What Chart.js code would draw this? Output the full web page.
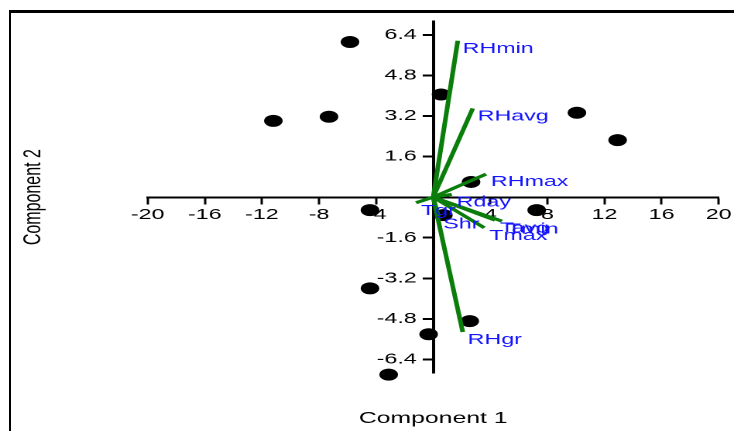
<!DOCTYPE html>
<html lang="en">
<head>
<meta charset="UTF-8">
<title>Component biplot</title>
<script src="https://cdn.jsdelivr.net/npm/chart.js"></script>
<style>
  html, body { margin: 0; padding: 0; background: #fff; overflow: hidden; width: 734px; height: 431px; }
  #frame { position: absolute; left: 8.5px; top: 10px; width: 760px; height: 460px;
           border-left: 2.5px solid #000; border-top: 3px solid #000; }
  /* the original figure uses a wide lettering, so the chart is drawn narrow and stretched */
  #wrap { position: absolute; left: 0; top: 0; width: 474px; height: 431px;
          transform: scaleX(1.5485); transform-origin: 0 0; }
</style>
</head>
<body>
<div id="frame"></div>
<div id="wrap"><canvas id="biplot"></canvas></div>

<script>
// observation scores
const scoreX = [-5.83, -11.2, -7.30, 0.55, 10.07, 12.92, 2.65, -4.43, 0.71, 7.25, -4.43, 2.56, -0.32, -3.12];
const scoreY = [6.12, 3.01, 3.17, 4.05, 3.33, 2.25, 0.60, -0.51, -0.71, -0.51, -3.60, -4.89, -5.41, -7.00];

// variable loadings
const varNames = ['RHmin', 'RHavg', 'RHmax', 'Rday', 'Tgr', 'Shr', 'Tavg', 'Tmin', 'Tmax', 'RHgr'];
const loadX = [1.72, 2.77, 3.70, 1.30, -1.20, 0.36, 4.33, 4.82, 3.58, 2.07];
const loadY = [6.17, 3.50, 0.91, 0.11, -0.22, -0.76, -0.91, -0.95, -1.21, -5.32];

const xTicks = [-20, -16, -12, -8, -4, 4, 8, 12, 16, 20];
const yTicks = [6.4, 4.8, 3.2, 1.6, -1.6, -3.2, -4.8, -6.4];

const family = '"Liberation Sans", Arial, sans-serif';

const vectorLabels = {
    id: 'vectorLabels',
    afterDatasetsDraw(chart) {
        const { ctx, scales: { x, y } } = chart;
        ctx.save();
        ctx.font = '15px ' + family;
        ctx.fillStyle = '#1414ff';
        ctx.textAlign = 'left';
        ctx.textBaseline = 'middle';
        varNames.forEach((name, i) => {
            ctx.fillText(name, x.getPixelForValue(loadX[i]) + 3.2, y.getPixelForValue(loadY[i]) + 8);
        });
        ctx.restore();
    }
};

const datasets = varNames.map((name, i) => ({
    label: name,
    data: [{ x: 0, y: 0 }, { x: loadX[i], y: loadY[i] }],
    showLine: true,
    borderColor: '#0b7d0b',
    borderWidth: 3,
    pointRadius: 0,
    clip: false,
    order: 0
}));
datasets.push({
    label: 'scores',
    data: scoreX.map((v, i) => ({ x: v, y: scoreY[i] })),
    backgroundColor: '#000',
    borderWidth: 0,
    pointRadius: 6,
    clip: false,
    order: 1
});

new Chart(document.getElementById('biplot'), {
    type: 'scatter',
    data: { datasets },
    options: {
        responsive: true,
        maintainAspectRatio: false,
        animation: false,
        devicePixelRatio: 2,
        layout: { padding: { left: 0, top: 21.5, right: 9.9, bottom: 0 } },
        plugins: { legend: { display: false }, tooltip: { enabled: false } },
        scales: {
            x: {
                type: 'linear', position: 'center', min: -20, max: 20,
                afterBuildTicks: s => { s.ticks = xTicks.map(v => ({ value: v })); },
                afterFit: s => { s.height = 0; s.paddingLeft = 0; s.paddingRight = 0; },
                grid: { drawOnChartArea: false, tickLength: 6, tickColor: '#000', tickWidth: 1.5 },
                border: { color: '#000', width: 2 },
                ticks: { color: '#000', font: { size: 15, family }, padding: 2.5,
                         maxRotation: 0, autoSkip: false, callback: v => String(v) }
            },
            y: {
                type: 'linear', position: 'center', min: -6.93, max: 6.93,
                afterBuildTicks: s => { s.ticks = yTicks.map(v => ({ value: v })); },
                afterFit: s => { s.width = 0; s.paddingTop = 0; s.paddingBottom = 0; },
                grid: { drawOnChartArea: false, tickLength: 6, tickColor: '#000', tickWidth: 2 },
                border: { color: '#000', width: 2 },
                ticks: { color: '#000', font: { size: 15, family }, padding: 4.6,
                         autoSkip: false, callback: v => String(v) }
            },
            xTitle: {
                type: 'linear', axis: 'x', position: 'bottom',
                afterFit: s => { s.height = 58.2; },
                ticks: { display: false }, grid: { display: false }, border: { display: false },
                title: { display: true, text: 'Component 1', color: '#000',
                         font: { size: 16, family }, padding: { top: 0, bottom: 3 } }
            },
            yTitle: {
                type: 'linear', axis: 'y', position: 'left',
                afterFit: s => { s.width = 95.4; },
                ticks: { display: false }, grid: { display: false }, border: { display: false },
                title: { display: true, text: 'Component 2', color: '#000',
                         font: { size: 16, family }, padding: { top: 12.2, bottom: 0 } }
            }
        }
    },
    plugins: [vectorLabels]
});
</script>
</body>
</html>
